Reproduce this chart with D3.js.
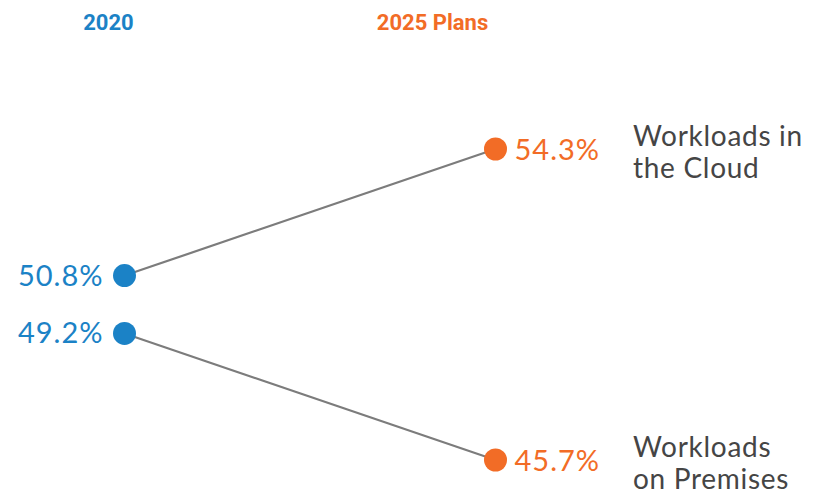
<!DOCTYPE html>
<html>
<head>
<meta charset="utf-8">
<script src="https://cdn.jsdelivr.net/npm/d3@7"></script>
<style>
  html, body { margin: 0; padding: 0; background: #ffffff; }
  svg { display: block; }
</style>
</head>
<body>
<svg id="chart" width="825" height="489"></svg>
<script>
// Share of workloads: 2020 actuals vs. 2025 plans
const periods = ["2020", "2025 Plans"];
const categories = [["Workloads in", "the Cloud"], ["Workloads", "on Premises"]];
const values2020 = [50.8, 49.2];
const values2025 = [54.3, 45.7];

const colors = { start: "#1b82c6", end: "#f26c26", line: "#7c7c7c", label: "#454545" };
const valueFont = "Lato, 'Open Sans', sans-serif";
const headFont = "Roboto, 'Liberation Sans', sans-serif";

const svg = d3.select("#chart");

const x = d3.scalePoint().domain(periods).range([124.5, 495.5]);
const y = d3.scaleLinear().domain([45.7, 54.3]).range([460, 149]);

// column headers
svg.selectAll("text.head")
  .data(periods)
  .join("text")
  .attr("class", "head")
  .attr("x", (d, i) => x(d) + (i === 0 ? -16 : -63))
  .attr("y", 30)
  .attr("text-anchor", "middle")
  .attr("font-family", headFont)
  .attr("font-weight", 700)
  .attr("font-size", 22)
  .attr("fill", (d, i) => i === 0 ? colors.start : colors.end)
  .text(d => d);

const rows = categories.map((c, i) => ({ label: c, a: values2020[i], b: values2025[i] }));

// slope lines
svg.selectAll("line.slope")
  .data(rows)
  .join("line")
  .attr("class", "slope")
  .attr("x1", x(periods[0]))
  .attr("y1", d => y(d.a))
  .attr("x2", x(periods[1]))
  .attr("y2", d => y(d.b))
  .attr("stroke", colors.line)
  .attr("stroke-width", 2.2);

// endpoints
svg.selectAll("circle.start")
  .data(rows)
  .join("circle")
  .attr("class", "start")
  .attr("cx", x(periods[0]))
  .attr("cy", d => y(d.a))
  .attr("r", 11.5)
  .attr("fill", colors.start);

svg.selectAll("circle.end")
  .data(rows)
  .join("circle")
  .attr("class", "end")
  .attr("cx", x(periods[1]))
  .attr("cy", d => y(d.b))
  .attr("r", 11.5)
  .attr("fill", colors.end);

// value labels
svg.selectAll("text.va")
  .data(rows)
  .join("text")
  .attr("class", "va")
  .attr("x", x(periods[0]) - 21)
  .attr("y", d => y(d.a) + 10)
  .attr("text-anchor", "end")
  .attr("font-family", valueFont)
  .attr("font-size", 29)
  .attr("letter-spacing", 1)
  .attr("fill", colors.start)
  .text(d => d.a.toFixed(1) + "%");

svg.selectAll("text.vb")
  .data(rows)
  .join("text")
  .attr("class", "vb")
  .attr("x", x(periods[1]) + 19)
  .attr("y", d => y(d.b) + 11)
  .attr("font-family", valueFont)
  .attr("font-size", 29)
  .attr("letter-spacing", 1)
  .attr("fill", colors.end)
  .text(d => d.b.toFixed(1) + "%");

// category labels
const cat = svg.selectAll("text.cat")
  .data(rows)
  .join("text")
  .attr("class", "cat")
  .attr("x", 633)
  .attr("y", d => y(d.b) - 3)
  .attr("font-family", valueFont)
  .attr("font-size", 28)
  .attr("letter-spacing", 0.7)
  .attr("fill", colors.label);

cat.selectAll("tspan")
  .data(d => d.label)
  .join("tspan")
  .attr("x", 633)
  .attr("dy", (d, i) => i === 0 ? 0 : 31.5)
  .text(d => d);
</script>
</body>
</html>
